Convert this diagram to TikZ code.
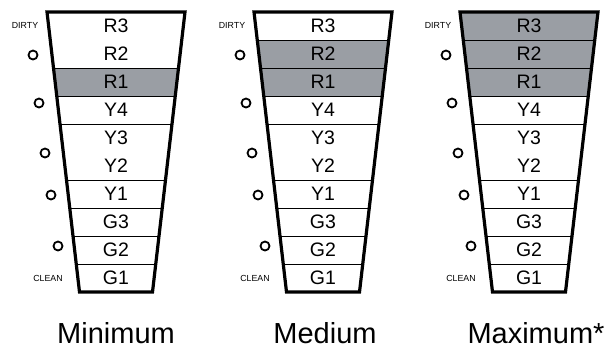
\documentclass[tikz,border=0pt]{standalone}
\usepackage{fontspec}
\setmainfont{Liberation Sans}
\definecolor{bandgray}{RGB}{154,158,164}
\begin{document}
\begin{tikzpicture}[x=1pt, y=-1pt,
  cell/.style = {font=\fontsize{19.5}{20}\selectfont, inner sep=0pt},
  tag/.style = {font=\fontsize{8.8}{9}\selectfont, inner sep=0pt},
  level/.style = {font=\fontsize{29}{30}\selectfont, inner sep=0pt, anchor=base},
  knob/.style = {draw, line width=1.8pt, circle, minimum size=9pt, inner sep=0pt},
  rim/.style = {line width=3.2pt, line join=miter},
  split/.style = {line width=0.9pt}]
  \useasboundingbox (0,0) rectangle (610,349);
  \foreach \cx/\ng/\pn/\tx/\title in {116/1/min/116/Minimum, 323/2/med/325/Medium, 529/3/max/536/Maximum*} {
    % funnel body
    \begin{scope}
      \clip ({\cx-69},12) -- ({\cx+69},12) -- ({\cx+36.5},292) -- ({\cx-36.5},292) -- cycle;
      \fill[bandgray] ({\cx-75},{12+28*(3-\ng)}) rectangle ({\cx+75},96);
      \ifnum\ng>1 \draw[split] ({\cx-75},40) -- ({\cx+75},40); \fi
      \foreach \k in {2,3,4,6,7,8,9}
        \draw[split] ({\cx-75},{12+28*\k}) -- ({\cx+75},{12+28*\k});
    \end{scope}
    \draw[rim] ({\cx-69},12) -- ({\cx+69},12) -- ({\cx+36.5},292) -- ({\cx-36.5},292) -- cycle;
    % zone labels
    \foreach \lab [count=\i] in {R3,R2,R1,Y4,Y3,Y2,Y1,G3,G2,G1}
      \node[cell] (\pn-\i) at (\cx,{28*\i-2}) {\lab};
    % indicator circles
    \foreach \dx/\yy [count=\j] in {-83/55, -77/103, -71/153, -65/195, -58/246}
      \node[knob] (\pn-o\j) at ({\cx+\dx},\yy) {};
    \node[tag] (\pn-dirty) at ({\cx-91},25) {DIRTY};
    \node[tag] (\pn-clean) at ({\cx-68},278.5) {CLEAN};
    \node[level] (\pn-title) at (\tx,343) {\title};
  }
\end{tikzpicture}
\end{document}
